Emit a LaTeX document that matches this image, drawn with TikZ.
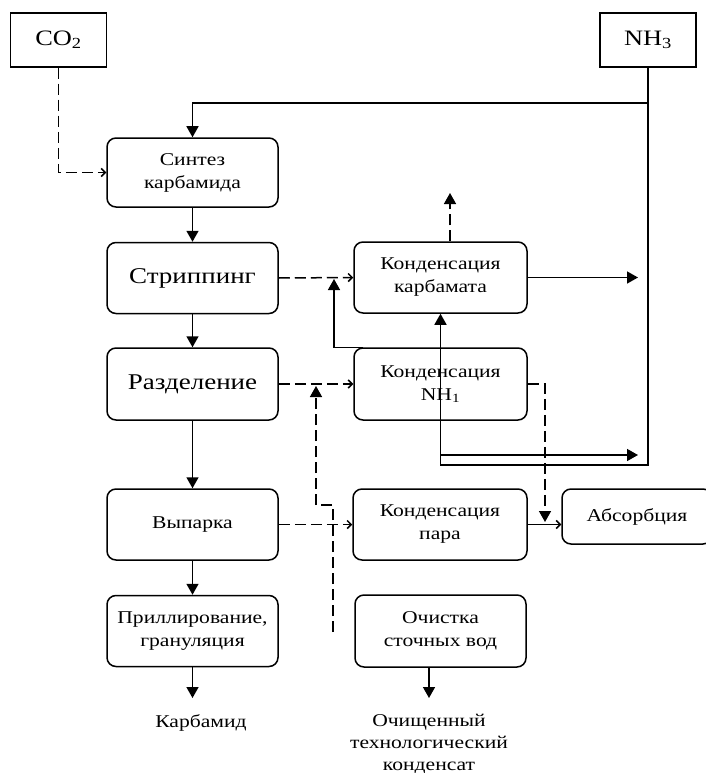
\documentclass[tikz,border=0pt]{standalone}
\usepackage{fontspec}
\setmainfont{Liberation Serif}[FakeStretch=1.2]
\usetikzlibrary{arrows.meta,calc}
\tikzset{
	blk/.style={draw, line width=1.5pt, rounded corners=9pt, minimum width=171pt, minimum height=71pt, inner sep=0pt, align=center, font=\fontsize{18}{23}\selectfont},
	bigblk/.style={blk, font=\fontsize{22.5}{26}\selectfont},
	src/.style={draw, line width=1.5pt, minimum width=96pt, minimum height=54pt, inner sep=0pt, font=\fontsize{22}{26}\selectfont},
	txt/.style={align=center, inner sep=0pt, font=\fontsize{18}{22}\selectfont},
	flow/.style={line width=1.5pt, -{Triangle[length=11pt,width=12pt]}},
	dflow/.style={flow, dash pattern=on 11pt off 5pt},
	feed/.style={line width=1.5pt, dash pattern=on 11pt off 5pt, -{Straight Barb[length=4pt,width=8pt]}}
}

\begin{document}
\begin{tikzpicture}[x=1pt, y=-1pt]
			%%%%% START %%%%%
			\useasboundingbox (0,0) rectangle (705,773);
			
			\node[src] (co2) at (58.5,40) {CO\textsubscript{2}};
			\node[src] (nh3) at (648,40) {NH\textsubscript{3}};
			
			\node[blk, minimum height=69pt] (sintez) at (192.5,172.5) {Синтез\\карбамида};
			\node[bigblk] (strip) at (192.5,278) {Стриппинг};
			\node[bigblk, minimum height=72pt] (razd) at (192.5,384) {Разделение};
			\node[blk] (vyp) at (192.5,524.5) {Выпарка};
			\node[blk] (prill) at (192.5,631) {Приллирование,\\грануляция};
			\node[txt] (karb) at (201,723) {Карбамид};
			
			\node[blk, minimum width=173pt] (kkarb) at (440.5,277.5) {Конденсация\\карбамата};
			\node[blk, minimum width=173pt, minimum height=72pt] (knh3) at (440.5,384) {Конденсация\\NH\textsubscript{1}};
			\node[blk, minimum width=174pt] (kpar) at (440,524.5) {Конденсация\\пара};
			\node[blk, minimum width=150pt, minimum height=55pt] (absorb) at (637,516.5) {Абсорбция};
			\node[blk, minimum height=72pt] (ochist) at (440.5,631) {Очистка\\сточных вод};
			\node[txt] (cleaned) at (429,744) {Очищенный\\технологический\\конденсат};
			
			\coordinate (tap) at (648,103);
			\coordinate (nh3low) at (648,465);
			\coordinate (outA) at (638,277.5);
			\coordinate (outB) at (638,455);
			\coordinate (ventA) at (450,193);
			\coordinate (retA) at (334,279);
			\coordinate (dropA) at (545,522);
			\coordinate (riseA) at (333,632);
			\coordinate (riseB) at (316,505);
			\coordinate (riseC) at (316,386);
			\coordinate (karbTop) at (192.5,698);
			\coordinate (cleanTop) at (429,698);
			
			% main line
			\draw[flow] (sintez) -- (strip);
			\draw[flow] (strip) -- (razd);
			\draw[flow] (razd) -- (vyp);
			\draw[flow] (vyp) -- (prill);
			\draw[flow] (prill.south) -- (karbTop);
			\draw[flow] (ochist.south -| cleanTop) -- (cleanTop);
			
			% ammonia
			\draw[flow] (tap) -| (sintez.north);
			\draw[flow] (nh3.south) -- (nh3low) -| (kkarb.south);
			\draw[flow] (kkarb.south |- outB) -- (outB);
			\draw[flow] (kkarb.east) -- (outA);
			\draw[flow] ($(knh3.north west)+(10,0)$) -| (retA);
			\draw[dflow] (kkarb.north -| ventA) -- (ventA);
			
			% gas feeds
			\draw[feed] (co2.south) |- (sintez.west);
			\draw[feed] (strip.east) -- (kkarb.west);
			\draw[feed] (razd.east) -- (knh3.west);
			\draw[feed] (vyp.east) -- (kpar.west);
			\draw[feed, solid] (kpar.east) -- (kpar.east -| absorb.west);
			\draw[dflow] (knh3.east) -| (dropA);
			\draw[dflow] (riseA) |- (riseB) -- (riseC);
			
			%%%%% END %%%%%
\end{tikzpicture}
\end{document}
